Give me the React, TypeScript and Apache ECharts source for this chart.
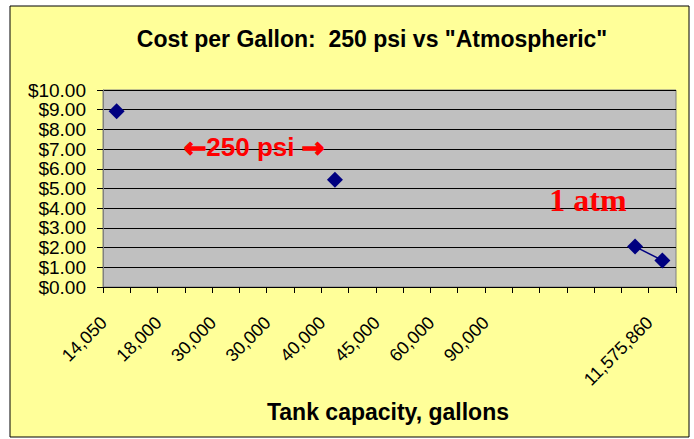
import React, { useEffect, useRef } from "react";
import * as echarts from "echarts";

const categories: string[] = [
  "14,050", "", "18,000", "", "30,000", "", "30,000", "", "40,000", "", "45,000",
  "", "60,000", "", "90,000", "", "", "", "", "", "11,575,860",
];
const psiValues: (number | null)[] = [
  8.92, null, null, null, null, null, null, null, 5.45, null, null,
  null, null, null, null, null, null, null, null, null, null,
];
const atmValues: (number | null)[] = [
  null, null, null, null, null, null, null, null, null, null, null,
  null, null, null, null, null, null, null, null, 2.05, 1.35,
];
const titleText = 'Cost per Gallon:  250 psi vs "Atmospheric"';
const xTitle = "Tank capacity, gallons";

export default function App() {
  const ref = useRef<HTMLDivElement>(null);
  useEffect(() => {
    if (!ref.current) return;
    const chart = echarts.init(ref.current, undefined, { renderer: "svg" });
    const arial = "Liberation Sans, Arial, sans-serif";
    chart.setOption({
      animation: false,
      backgroundColor: "#ffffff",
      graphic: [
        {
          type: "rect",
          z: -10,
          shape: { x: 10, y: 6, width: 679, height: 431 },
          style: { fill: "#FFFF99", stroke: "#000000", lineWidth: 1 },
        },
        {
          type: "rect",
          z: -5,
          shape: { x: 103, y: 90, width: 573, height: 197 },
          style: { fill: "#C0C0C0", stroke: "#808080", lineWidth: 1 },
        },
        {
          type: "text",
          style: {
            text: titleText,
            x: 372,
            y: 39,
            align: "center",
            verticalAlign: "middle",
            font: "bold 23px " + arial,
            fill: "#000000",
          },
        },
        {
          type: "text",
          style: {
            text: xTitle,
            x: 388,
            y: 412,
            align: "center",
            verticalAlign: "middle",
            font: "bold 23px " + arial,
            fill: "#000000",
          },
        },
        {
          type: "text",
          z: 20,
          style: {
            text: "{a|\u2190}250 psi {a|\u2192}",
            x: 254,
            y: 147,
            align: "center",
            verticalAlign: "middle",
            font: "bold 26px " + arial,
            fill: "#FF0000",
            rich: {
              a: {
                fontFamily: "DejaVu Sans",
                fontWeight: "bold",
                fontSize: 27,
                fill: "#FF0000",
                stroke: "#FF0000",
                lineWidth: 1.4,
              },
            },
          },
        },
        {
          type: "text",
          z: 20,
          style: {
            text: "1 atm",
            x: 588,
            y: 200,
            align: "center",
            verticalAlign: "middle",
            font: "bold 32px Liberation Serif, Times New Roman, serif",
            fill: "#FF0000",
          },
        },
      ],
      grid: { left: 103, top: 90, right: 18, bottom: 152, containLabel: false },
      xAxis: {
        type: "category",
        data: categories,
        boundaryGap: true,
        axisLine: { show: true, lineStyle: { color: "#000000", width: 1 } },
        axisTick: { show: true, interval: 0, length: 6, lineStyle: { color: "#000000" } },
        axisLabel: {
          interval: 1,
          rotate: 45,
          margin: 20,
          padding: [0, 18, 0, 0],
          fontSize: 18,
          fontFamily: arial,
          color: "#000000",
        },
        splitLine: { show: false },
      },
      yAxis: {
        type: "value",
        min: 0,
        max: 10,
        interval: 1,
        axisLine: { show: true, lineStyle: { color: "#808080", width: 1 } },
        axisTick: { show: true, length: 6, lineStyle: { color: "#000000" } },
        axisLabel: {
          fontSize: 19,
          fontFamily: arial,
          color: "#000000",
          margin: 17,
          formatter: (v: number) => "$" + v.toFixed(2),
        },
        splitLine: { show: true, lineStyle: { color: "#000000", width: 1 } },
      },
      series: [
        {
          type: "line",
          data: psiValues,
          connectNulls: false,
          symbol: "diamond",
          symbolSize: 16,
          showAllSymbol: true,
          itemStyle: { color: "#000080" },
          lineStyle: { color: "#000080", width: 1 },
          z: 10,
        },
        {
          type: "line",
          data: atmValues,
          connectNulls: false,
          symbol: "diamond",
          symbolSize: 16,
          showAllSymbol: true,
          itemStyle: { color: "#000080" },
          lineStyle: { color: "#000080", width: 1.5 },
          z: 10,
        },
      ],
    });
    return () => chart.dispose();
  }, []);
  return (
    <div
      ref={ref}
      style={{ position: "fixed", left: 0, top: 0, width: 694, height: 439 }}
    />
  );
}
